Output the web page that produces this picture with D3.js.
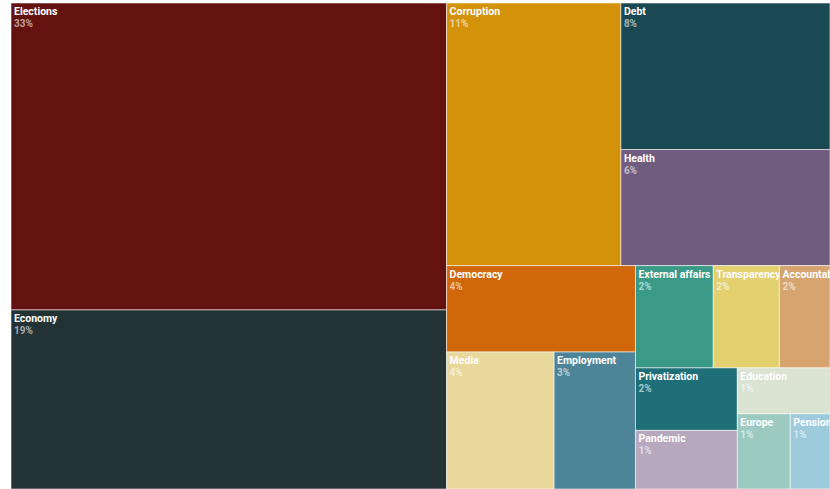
<!DOCTYPE html>
<html>
<head>
<meta charset="utf-8">
<script src="https://cdn.jsdelivr.net/npm/d3@7"></script>
<style>
  body { margin: 0; background: #fff; }
  svg { display: block; }
  .cell_label { font-family: Roboto, "Noto Sans", sans-serif; font-weight: 700; font-size: 10.5px; fill: #fff; }
  .cell_pct { font-family: Roboto, "Noto Sans", sans-serif; font-weight: 700; font-size: 10px; fill: #fff; fill-opacity: 0.6; }
</style>
</head>
<body>
<div id="chart"><svg></svg></div>
<script>
const topics = ["Elections", "Economy", "Corruption", "Debt", "Health", "Democracy", "Media",
  "Employment", "External affairs", "Transparency", "Accountability", "Privatization",
  "Pandemic", "Education", "Europe", "Pensions"];
const shares = [33.6, 19.6, 11.5, 7.7, 6.1, 4.1, 3.7, 2.8, 2.0, 1.7, 1.3, 1.6, 1.5, 1.07, 1.0, 0.75];
const pctLabels = ["33%", "19%", "11%", "8%", "6%", "4%", "4%", "3%", "2%", "2%", "2%", "2%",
  "1%", "1%", "1%", "1%"];
const colors = ["#63120f", "#233235", "#d4920a", "#1b4953", "#6f5c7f", "#d0680b", "#e9d89b",
  "#4e8497", "#3a9a87", "#e3d170", "#d6a46f", "#1f6f78", "#b6a8bd", "#dbe3d3", "#9ccac0", "#9dcbdc"];

function TreeMap(container) {
  const width = 830, height = 489;
  const margin = { top: 3, right: 0, bottom: 0, left: 11 };

  const svg = container.select("svg").attr("width", width).attr("height", height);

  const data = topics.map((t, i) => ({ name: t, value: shares[i], pct: pctLabels[i], color: colors[i] }));

  const root = d3.hierarchy({ children: data }).sum((d) => d.value || 0);

  d3.treemap()
    .tile(d3.treemapBinary)
    .size([width - margin.left - margin.right, height - margin.top - margin.bottom])
    .paddingInner(0)(root);

  const g = svg.append("g").attr("transform", `translate(${margin.left},${margin.top})`);

  const cell = g.selectAll("g")
    .data(root.leaves())
    .join("g")
    .attr("transform", (d) => `translate(${d.x0},${d.y0})`);

  cell.append("clipPath")
    .attr("id", (d, i) => `clip_${i}`)
    .append("rect")
    .attr("width", (d) => d.x1 - d.x0)
    .attr("height", (d) => d.y1 - d.y0);

  cell.append("rect")
    .attr("width", (d) => d.x1 - d.x0)
    .attr("height", (d) => d.y1 - d.y0)
    .attr("fill", (d) => d.data.color)
    .attr("stroke", "rgba(255,255,255,0.55)")
    .attr("stroke-width", 1);

  const txt = cell.append("g").attr("clip-path", (d, i) => `url(#clip_${i})`);

  txt.append("text")
    .attr("class", "cell_label")
    .attr("x", 3)
    .attr("y", 12)
    .text((d) => d.data.name);

  txt.append("text")
    .attr("class", "cell_pct")
    .attr("x", 3)
    .attr("y", 24)
    .text((d) => d.data.pct);
}

TreeMap(d3.select("#chart"));
</script>
</body>
</html>
